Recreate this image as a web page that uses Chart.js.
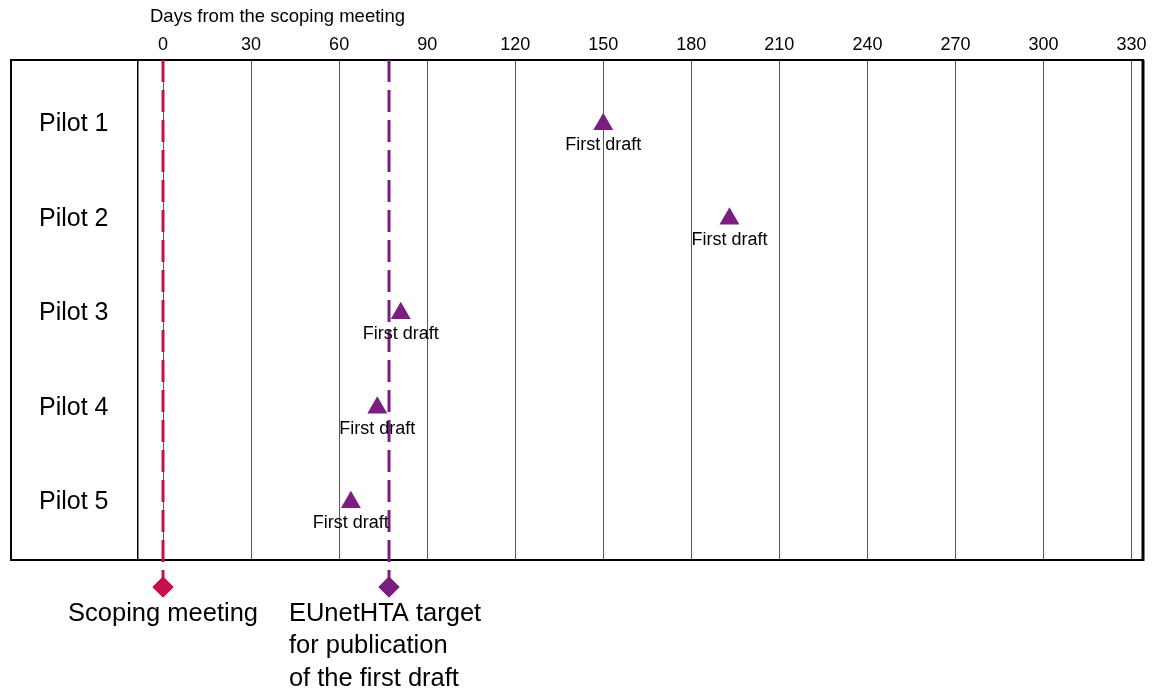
<!DOCTYPE html>
<html>
<head>
<meta charset="utf-8">
<script src="https://cdn.jsdelivr.net/npm/chart.js@4.4.1/dist/chart.umd.min.js"></script>
<style>
  html, body { margin: 0; padding: 0; background: #fff; }
  #wrap { position: relative; width: 1156px; height: 693px; }
</style>
</head>
<body>
<div id="wrap"><canvas id="timeline"></canvas></div>
<script>
/* Data */
const PILOTS = ['Pilot 1', 'Pilot 2', 'Pilot 3', 'Pilot 4', 'Pilot 5'];
const FIRST_DRAFT_DAYS = [150, 193, 81, 73, 64];
const FIRST_DRAFT_LABEL = 'First draft';
const DAY_TICKS = [0, 30, 60, 90, 120, 150, 180, 210, 240, 270, 300, 330];
const MILESTONE_DAYS = [0, 77];
const MILESTONE_LABELS = [
    ['Scoping meeting'],
    ['EUnetHTA target', 'for publication', 'of the first draft'],
];
const AXIS_TITLE = 'Days from the scoping meeting';

/* Layout / style */
const FONT_FAMILY = "'Liberation Sans', Arial, sans-serif";
const PURPLE = '#7B1E80';
const CRIMSON = '#C8114A';
const MILESTONE_COLORS = [CRIMSON, PURPLE];
const X_MIN = -8.7;
const X_MAX = 333.9;
const Y_MIN = 0.32;
const Y_MAX = 5.61;
const MARKER_ROW = 5.895;   // milestone diamonds sit just under the table
const TABLE_LEFT = 11;

const milestoneDatasets = MILESTONE_DAYS.map((day, i) => ({
    label: MILESTONE_LABELS[i].join(' '),
    data: [{ x: day, y: Y_MIN }, { x: day, y: MARKER_ROW }],
    showLine: true,
    borderColor: MILESTONE_COLORS[i],
    borderWidth: 3,
    borderDash: [22, 8],
    pointRadius: 0,
    clip: false,
    order: 2,
}));

const draftDataset = {
    label: FIRST_DRAFT_LABEL,
    data: PILOTS.map((_, i) => ({ x: FIRST_DRAFT_DAYS[i], y: i + 1 })),
    pointStyle: 'triangle',
    pointRadius: 11.5,
    backgroundColor: PURPLE,
    pointBackgroundColor: PURPLE,
    pointBorderWidth: 0,
    order: 1,
};

const tablePlugin = {
    id: 'tablePlugin',
    beforeDatasetsDraw(chart) {
        const { ctx, chartArea: a } = chart;
        ctx.save();
        ctx.strokeStyle = '#000';
        ctx.lineWidth = 2;
        ctx.strokeRect(TABLE_LEFT, a.top, a.right - TABLE_LEFT, a.bottom - a.top);
        ctx.lineWidth = 3;
        ctx.beginPath();
        ctx.moveTo(a.right, a.top);
        ctx.lineTo(a.right, a.bottom + 1);
        ctx.stroke();
        ctx.restore();
    },
    afterDatasetsDraw(chart) {
        const { ctx, chartArea: a } = chart;
        ctx.save();
        ctx.fillStyle = '#000';
        ctx.textBaseline = 'middle';

        // "First draft" under each triangle
        ctx.font = `18px ${FONT_FAMILY}`;
        ctx.textAlign = 'center';
        const draftMeta = chart.getDatasetMeta(0);
        draftMeta.data.forEach(pt => {
            ctx.fillText(FIRST_DRAFT_LABEL, pt.x, pt.y + 21);
        });

        // diamonds at the end of the milestone lines (outside the chart area,
        // so Chart.js skips them) and their captions
        ctx.font = `25.5px ${FONT_FAMILY}`;
        ctx.textAlign = 'left';
        MILESTONE_LABELS.forEach((lines, i) => {
            const meta = chart.getDatasetMeta(i + 1);
            const pt = meta.data[meta.data.length - 1];
            ctx.fillStyle = MILESTONE_COLORS[i];
            Chart.helpers.drawPoint(ctx, { pointStyle: 'rectRot', radius: 10.5, borderWidth: 0, rotation: 0 }, pt.x, pt.y);
            ctx.fill();
            ctx.fillStyle = '#000';
            const w = Math.max(...lines.map(l => ctx.measureText(l).width));
            const shift = lines.length > 1 ? 4 : 0;
            lines.forEach((line, k) => {
                ctx.fillText(line, pt.x - w / 2 - shift, pt.y + 27 + k * 32.5);
            });
        });

        // axis title, above the tick labels
        ctx.font = `18.5px ${FONT_FAMILY}`;
        ctx.fillText(AXIS_TITLE, a.left + 12.5, 17);
        ctx.restore();
    },
};

new Chart(document.getElementById('timeline'), {
    type: 'scatter',
    data: { datasets: [draftDataset, ...milestoneDatasets] },
    options: {
        responsive: true,
        maintainAspectRatio: false,
        animation: false,
        events: [],
        layout: { padding: { left: 10, right: 13, top: 0, bottom: 133 } },
        plugins: {
            legend: { display: false },
            tooltip: { enabled: false },
        },
        scales: {
            x: {
                type: 'linear',
                position: 'top',
                min: X_MIN,
                max: X_MAX,
                afterBuildTicks: scale => { scale.ticks = DAY_TICKS.map(v => ({ value: v })); },
                afterFit: scale => { scale.height = 60; },
                ticks: {
                    autoSkip: false,
                    maxRotation: 0,
                    padding: 4,
                    color: '#000',
                    font: { family: FONT_FAMILY, size: 18 },
                    callback: v => String(v),
                },
                grid: { color: '#5a5a5a', lineWidth: 1, drawTicks: false },
                border: { display: true, color: '#000', width: 2 },
            },
            y: {
                type: 'linear',
                reverse: true,
                min: Y_MIN,
                max: Y_MAX,
                afterBuildTicks: scale => { scale.ticks = PILOTS.map((_, i) => ({ value: i + 1 })); },
                afterFit: scale => { scale.width = 127.5; },
                ticks: {
                    padding: 21,
                    color: '#000',
                    font: { family: FONT_FAMILY, size: 25 },
                    callback: v => PILOTS[v - 1],
                },
                grid: { display: false },
                border: { display: true, color: '#000', width: 1.5 },
            },
        },
    },
    plugins: [tablePlugin],
});
</script>
</body>
</html>
